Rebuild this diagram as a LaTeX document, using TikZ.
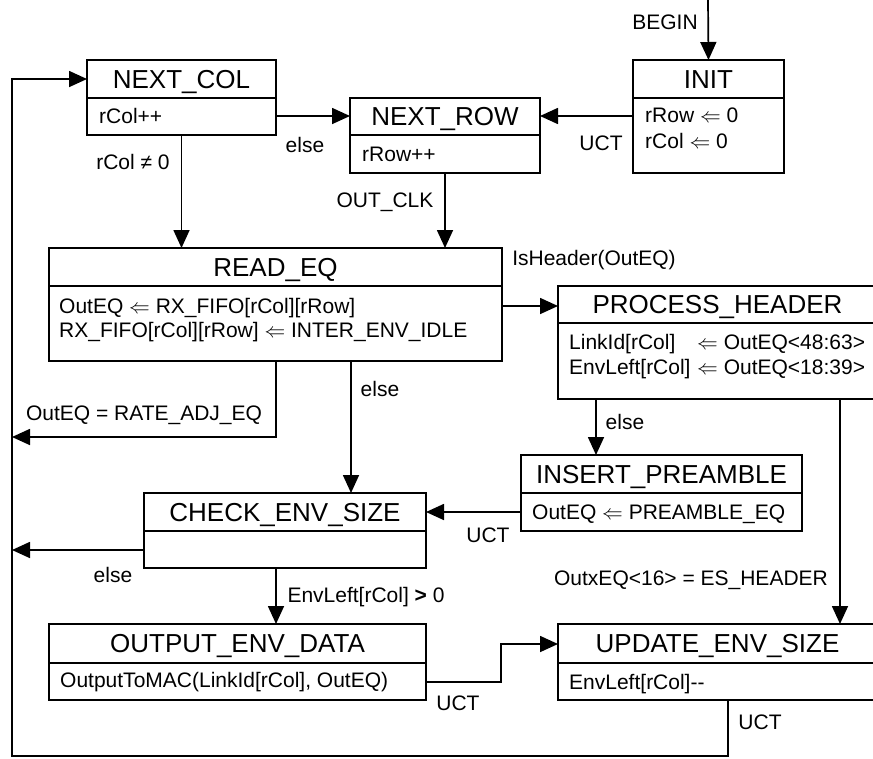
\documentclass[tikz,border=0pt]{standalone}
\usepackage{fontspec}
\setmainfont{Liberation Sans}
\usetikzlibrary{arrows.meta,calc}
\tikzset{
  stateframe/.style={draw, line width=1.7pt, inner sep=0pt, outer sep=0pt, anchor=north west},
  divline/.style={line width=1.7pt},
  ttl/.style={font=\fontsize{26}{30}\selectfont, inner sep=0pt, text height=18.6pt, text depth=0pt},
  txt/.style={font=\fontsize{21}{24}\selectfont, inner sep=0pt, text height=15pt, text depth=0pt},
  bodytxt/.style={txt, anchor=west},
  conn/.style={line width=1.7pt, -{Triangle[length=18pt,width=16pt]}},
}
\newcommand\mkstate[7]{%
  \node[stateframe, minimum width={(#4-#2)*1pt}, minimum height={(#5-#3)*1pt}] (#1) at (#2,#3) {};
  \draw[divline] (#2,#6) -- (#4,#6);
  \node[ttl] (#1-t) at ({(#2+#4)/2},{(#3+#6)/2}) {#7};
}
\newcommand\la{$\Leftarrow$}
\begin{document}
\begin{tikzpicture}[x=1pt,y=-1pt]
\useasboundingbox (0,0) rectangle (873,758);
\clip (0,0) rectangle (873,758);

\mkstate{nc}{87}{60}{276}{135}{98}{NEXT\_COL}
\mkstate{nr}{350}{98}{540}{173}{135}{NEXT\_ROW}
\mkstate{init}{633}{60}{784}{173}{98}{INIT}
\mkstate{re}{49}{248}{502}{361}{286}{READ\_EQ}
\mkstate{ph}{558}{286}{877}{399}{323}{PROCESS\_HEADER}
\mkstate{ip}{521}{455}{802}{531}{493}{INSERT\_PREAMBLE}
\mkstate{ces}{144}{493}{426}{568}{531}{CHECK\_ENV\_SIZE}
\mkstate{oed}{49}{624}{426}{700}{663}{OUTPUT\_ENV\_DATA}
\mkstate{ues}{558}{624}{877}{700}{663}{UPDATE\_ENV\_SIZE}

% body texts
\node[bodytxt] (nc-b) at (99,116) {rCol++};
\node[bodytxt] (nr-b) at (362,154) {rRow++};
\node[bodytxt] (init-b1) at (645,115) {rRow \la{} 0};
\node[bodytxt] (init-b2) at (645,141) {rCol \la{} 0};
\node[bodytxt] (re-b1) at (59,306) {OutEQ \la{} RX\_FIFO[rCol][rRow]};
\node[bodytxt] (re-b2) at (59,330) {RX\_FIFO[rCol][rRow] \la{} INTER\_ENV\_IDLE};
\node[bodytxt] (ph-b1) at (569,342) {\makebox[128pt][l]{LinkId[rCol]}\la{} OutEQ<48:63>};
\node[bodytxt] (ph-b2) at (569,367) {\makebox[128pt][l]{EnvLeft[rCol]}\la{} OutEQ<18:39>};
\node[bodytxt] (ip-b) at (532,512) {OutEQ \la{} PREAMBLE\_EQ};
\node[bodytxt] (oed-b) at (60,680) {OutputToMAC(LinkId[rCol], OutEQ)};
\node[bodytxt] (ues-b) at (569,682) {EnvLeft[rCol]{-}{-}};

% free ends
\coordinate (begin) at (708,0);
\coordinate (l437) at (12,437);
\coordinate (l550) at (12,550);
\coordinate (lbot) at (12,756);

% connectors
\draw[conn] (begin) -- (init.north);
\draw[conn] (init.west |- 0,116) -- (nr.east |- 0,116);
\draw[conn] (nc.east |- 0,116) -- (nr.west |- 0,116);
\draw[conn] (nc.south) -- (re.north -| nc.south);
\draw[conn] (nr.south) -- (re.north -| nr.south);
\draw[conn] (re.east |- 0,306) -- (ph.west |- 0,306);
\draw[conn] (re.south -| 276,0) |- (l437);
\draw[conn] (re.south -| 351,0) -- (ces.north -| 351,0);
\draw[conn] (ph.south -| 596,0) -- (ip.north -| 596,0);
\draw[conn] (ph.south -| 840,0) -- (ues.north -| 840,0);
\draw[conn] (ip.west |- 0,512) -- (ces.east |- 0,512);
\draw[conn] (ces.west |- 0,550) -- (l550);
\draw[conn] (ces.south -| 276,0) -- (oed.north -| 276,0);
\draw[conn] (oed.east |- 0,682) -- ++(75,0) |- (ues.west |- 0,644);
\draw[conn] (ues.south -| 728,0) |- (lbot) |- (nc.west |- 0,79);

% labels
\node[txt] (lb-begin) at (665,22) {BEGIN};
\node[txt] (lb-uct1) at (601,143) {UCT};
\node[txt] (lb-else1) at (305,145) {else};
\node[txt] (lb-rcol) at (133,162) {rCol ≠ 0};
\node[txt] (lb-outclk) at (385,200) {OUT\_CLK};
\node[txt] (lb-ishdr) at (594,258) {IsHeader(OutEQ)};
\node[txt] (lb-rate) at (144,413) {OutEQ = RATE\_ADJ\_EQ};
\node[txt] (lb-else2) at (380,389) {else};
\node[txt] (lb-else3) at (625,422) {else};
\node[txt] (lb-uct2) at (488,535) {UCT};
\node[txt] (lb-else4) at (113,575) {else};
\node[txt] (lb-env) at (366,595) {EnvLeft[rCol] \textbf{>} 0};
\node[txt] (lb-es) at (691,578) {OutxEQ<16> = ES\_HEADER};
\node[txt] (lb-uct3) at (458,703) {UCT};
\node[txt] (lb-uct4) at (760,722) {UCT};
\end{tikzpicture}
\end{document}
